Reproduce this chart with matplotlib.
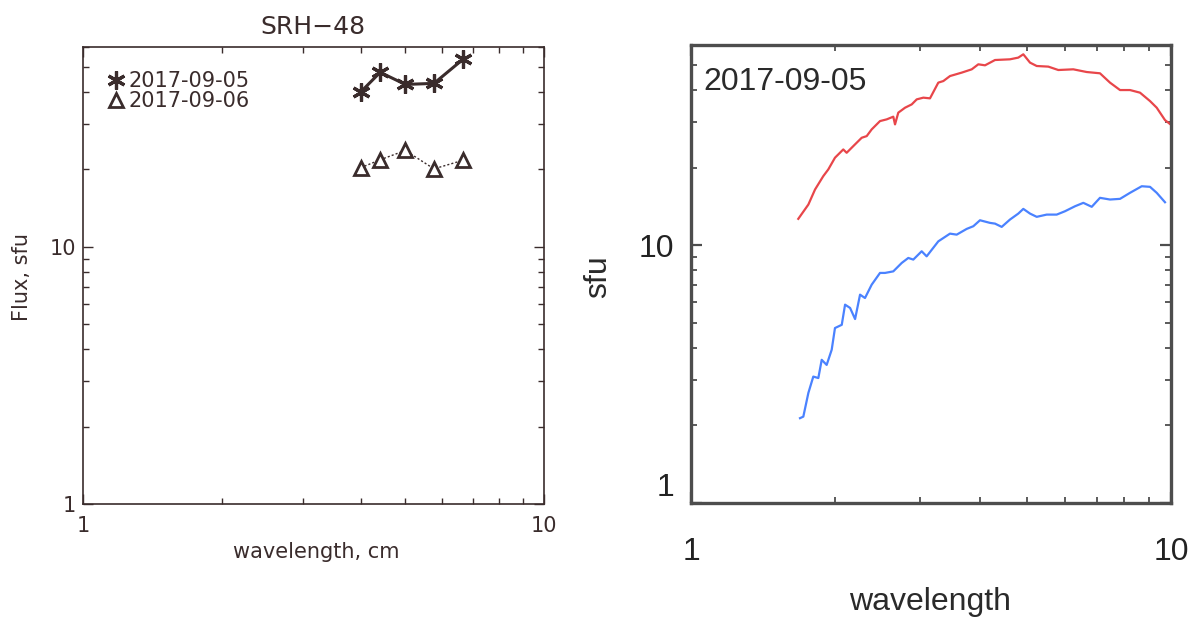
import matplotlib
matplotlib.use("Agg")
import matplotlib.pyplot as plt
from matplotlib.lines import Line2D
from matplotlib.ticker import FixedLocator, FixedFormatter, NullFormatter

# ---------------- data ----------------
# Left panel: SRH-48 fluxes
srh_wavelength = [4.0, 4.41, 5.0, 5.77, 6.67]
flux_0905 = [40.0, 47.7, 42.8, 43.2, 53.6]
flux_0906 = [20.3, 21.8, 23.7, 20.1, 21.7]
left_labels = ["2017-09-05", "2017-09-06"]

# Right panel: spectra
red_wavelength = [1.673, 1.756, 1.813, 1.886, 1.932, 1.995, 2.076, 2.110, 2.178, 2.268,
                  2.323, 2.379, 2.476, 2.557, 2.639, 2.661, 2.703, 2.792, 2.883, 2.953,
                  3.048, 3.147, 3.275, 3.355, 3.464, 3.664, 3.845, 3.968, 4.098, 4.299,
                  4.619, 4.807, 4.924, 5.085, 5.251, 5.551, 5.824, 6.258, 6.673, 7.113,
                  7.463, 7.831, 8.215, 8.619, 9.042, 9.338, 9.716, 9.95]
red_flux = [12.67, 14.40, 16.47, 18.56, 19.71, 21.89, 23.57, 22.88, 24.28, 26.17,
            26.56, 28.20, 30.38, 30.85, 31.60, 29.49, 32.75, 34.24, 35.27, 36.89,
            37.46, 37.23, 42.85, 43.46, 45.45, 46.86, 48.27, 50.48, 50.03, 52.46,
            52.79, 53.60, 55.21, 51.25, 49.72, 49.45, 47.97, 48.27, 47.12, 46.58,
            42.85, 40.10, 40.10, 39.17, 36.34, 34.24, 30.65, 29.6]

blue_wavelength = [1.687, 1.714, 1.756, 1.798, 1.842, 1.872, 1.917, 1.964, 1.995, 2.061,
                   2.094, 2.145, 2.197, 2.250, 2.304, 2.379, 2.476, 2.536, 2.639, 2.748,
                   2.836, 2.905, 3.024, 3.097, 3.275, 3.464, 3.577, 3.753, 3.874, 4.000,
                   4.197, 4.299, 4.439, 4.619, 4.807, 4.924, 5.085, 5.251, 5.508, 5.779,
                   6.013, 6.310, 6.567, 6.837, 7.113, 7.463, 7.831, 8.215, 8.690, 9.042,
                   9.338, 9.716]
blue_flux = [2.13, 2.16, 2.67, 3.09, 3.05, 3.59, 3.43, 3.93, 4.77, 4.91,
             5.88, 5.71, 5.17, 6.43, 6.24, 7.03, 7.81, 7.81, 7.92, 8.54,
             8.93, 8.80, 9.48, 9.06, 10.36, 11.10, 11.00, 11.58, 11.86, 12.51,
             12.22, 12.14, 11.79, 12.59, 13.28, 13.85, 13.28, 12.90, 13.16, 13.16,
             13.56, 14.18, 14.62, 14.11, 15.29, 15.06, 15.15, 15.99, 16.96, 16.87,
             15.99, 14.70]
right_label = "2017-09-05"

# ---------------- figure ----------------
W, H = 1193, 618
fig = plt.figure(figsize=(W / 100, H / 100), dpi=100)

def fx(px):
    return px / W

def fy(py):
    return 1 - py / H

major = [1, 10]
minor_x = [2, 3, 4, 5, 6, 7, 8, 9]
minor_y = [2, 3, 4, 5, 6, 7, 8, 9, 20, 30, 40, 50, 60]

# ---------- left panel ----------
LC = "#3a2c2c"
axl = fig.add_axes([fx(83.3), fy(504), fx(544) - fx(83.3), fy(46.7) - fy(504)])
axl.set_xscale("log")
axl.set_yscale("log")
axl.plot(srh_wavelength, flux_0905, color=LC, lw=2.2, marker=(6, 2, 0),
         ms=13, mew=2.3, mec=LC, clip_on=False, zorder=3)
axl.plot(srh_wavelength, flux_0906, color=LC, lw=1.0, ls=(0, (1.5, 1.5)),
         marker="^", ms=10.5, mew=2.0, mfc="white", mec=LC, clip_on=False, zorder=3)
axl.set_xlim(1, 10)
axl.set_ylim(1, 60)
for a in (axl.xaxis, axl.yaxis):
    a.set_major_locator(FixedLocator(major))
    a.set_major_formatter(FixedFormatter(["1", "10"]))
    a.set_minor_formatter(NullFormatter())
axl.xaxis.set_minor_locator(FixedLocator(minor_x))
axl.yaxis.set_minor_locator(FixedLocator(minor_y))
axl.tick_params(which="both", direction="in", top=True, right=True, color=LC,
                labelcolor=LC, labelsize=15)
axl.tick_params(which="major", length=7, width=1.0)
axl.tick_params(which="minor", length=4, width=1.0)
axl.tick_params(axis="x", which="major", pad=9)
axl.tick_params(axis="y", which="major", pad=5)
for s in axl.spines.values():
    s.set_color(LC)
    s.set_linewidth(1.2)

handles = [Line2D([], [], color=LC, ls="none", marker=(6, 2, 0), ms=13, mew=2.3),
           Line2D([], [], color=LC, ls="none", marker="^", ms=10.5, mew=2.0, mfc="white")]
axl.legend(handles, left_labels, loc="upper left", bbox_to_anchor=(0.04, 0.965),
           frameon=False, handlelength=0.6, handletextpad=0.3, labelspacing=0.02,
           borderaxespad=0, fontsize=15, labelcolor=LC)

fig.text(fx(313), fy(27), "SRH\u221248", ha="center", va="center", fontsize=18, color=LC)
fig.text(fx(316), fy(552), "wavelength, cm", ha="center", va="center", fontsize=15, color=LC)
fig.text(fx(22), fy(277), "Flux, sfu", ha="center", va="center", rotation=90,
         fontsize=15, color=LC)

# ---------- right panel ----------
RC = "#4d4d4d"
FONT = "Liberation Sans"
axr = fig.add_axes([fx(691), fy(502.7), fx(1171) - fx(691), fy(45) - fy(502.7)])
axr.set_xscale("log")
axr.set_yscale("log")
axr.plot(red_wavelength, red_flux, color="#e8464a", lw=1.6)
axr.plot(blue_wavelength, blue_flux, color="#4a82ff", lw=1.6)
axr.set_xlim(1, 10)
axr.set_ylim(1, 60)
for a in (axr.xaxis, axr.yaxis):
    a.set_major_locator(FixedLocator(major))
    a.set_major_formatter(FixedFormatter(["1", "10"]))
    a.set_minor_formatter(NullFormatter())
axr.xaxis.set_minor_locator(FixedLocator(minor_x))
axr.yaxis.set_minor_locator(FixedLocator(minor_y))
axr.tick_params(which="both", direction="in", top=True, right=True, color=RC,
                labelcolor="#222222", labelsize=23)
axr.tick_params(which="major", length=8, width=1.6)
axr.tick_params(which="minor", length=4.5, width=1.3)
axr.tick_params(axis="x", which="major", pad=25)
axr.tick_params(axis="y", which="major", pad=12)
for lab in axr.get_xticklabels() + axr.get_yticklabels():
    lab.set_fontfamily(FONT)
for s in axr.spines.values():
    s.set_color(RC)
    s.set_linewidth(2.4)

fig.canvas.draw()
ylabs = axr.get_yticklabels()
ylabs[0].set_va("bottom")

axr.text(0.025, 0.92, right_label, transform=axr.transAxes, ha="left", va="center",
         fontsize=23, fontfamily=FONT, color="#2a2a2a")
fig.text(fx(598), fy(277), "sfu", ha="center", va="center", rotation=90,
         fontsize=23, fontfamily=FONT, color="#2a2a2a")
fig.text(fx(930), fy(602), "wavelength", ha="center", va="center",
         fontsize=23, fontfamily=FONT, color="#2a2a2a")

fig.savefig("out.png", dpi=100)
